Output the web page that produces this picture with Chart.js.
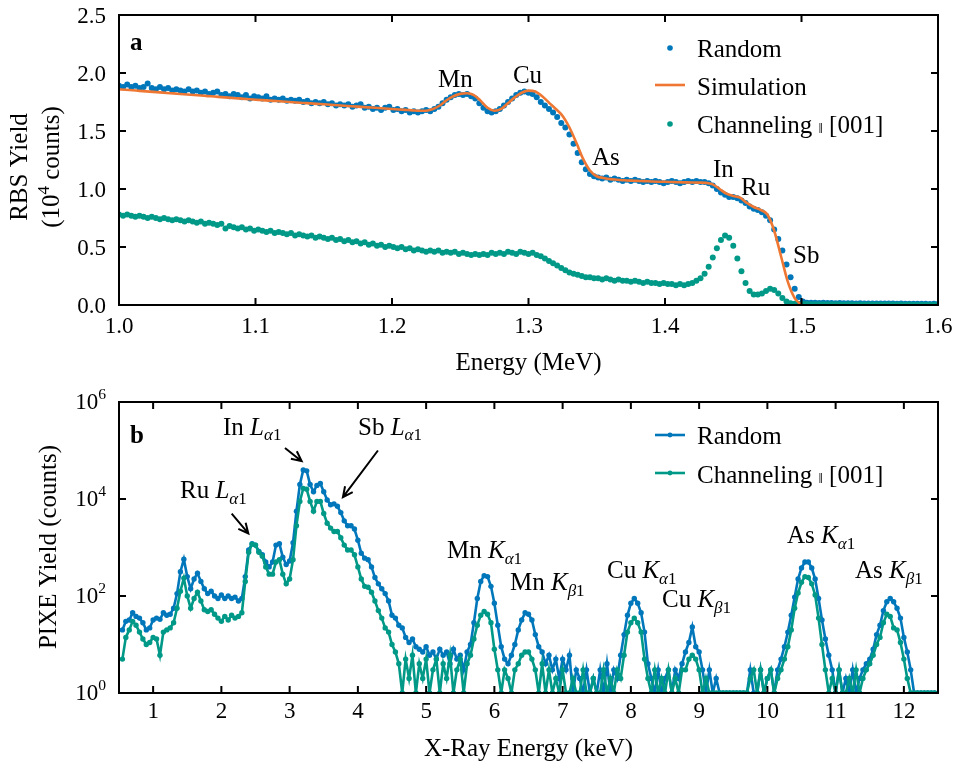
<!DOCTYPE html>
<html lang="en">
<head>
<meta charset="UTF-8" />
<title>RBS and PIXE spectra</title>
<script src="https://cdn.jsdelivr.net/npm/chart.js"></script>
<style>
  body { margin: 0; background: #fff; }
  canvas { position: absolute; left: 0; }
  #rbsChart { top: 0; }
  #pixeChart { top: 380px; }
</style>
</head>
<body>
<canvas id="rbsChart" width="955" height="380"></canvas>
<canvas id="pixeChart" width="955" height="385"></canvas>
<script>
// ---------- panel a: RBS (yield in 10^4 counts) ----------
const rbsStart = 1.0, rbsStep = 0.003;     // MeV per channel
const rbsRandom = [
  1.89,1.88,1.90,1.88,1.89,1.87,1.88,1.91,1.87,1.86,
  1.88,1.86,1.87,1.85,1.86,1.85,1.84,1.86,1.84,1.85,
  1.83,1.84,1.82,1.83,1.84,1.81,1.82,1.80,1.82,1.81,
  1.79,1.81,1.78,1.80,1.79,1.78,1.80,1.77,1.78,1.77,
  1.78,1.76,1.77,1.76,1.77,1.75,1.76,1.74,1.75,1.74,
  1.75,1.73,1.74,1.72,1.73,1.72,1.73,1.71,1.72,1.73,
  1.70,1.71,1.69,1.70,1.68,1.70,1.71,1.68,1.69,1.67,
  1.68,1.66,1.67,1.66,1.67,1.68,1.67,1.69,1.71,1.74,
  1.77,1.79,1.81,1.82,1.81,1.82,1.80,1.78,1.74,1.70,
  1.67,1.66,1.67,1.69,1.72,1.75,1.78,1.81,1.83,1.84,
  1.83,1.82,1.79,1.75,1.72,1.69,1.66,1.62,1.57,1.53,
  1.47,1.39,1.31,1.23,1.17,1.13,1.11,1.10,1.09,1.10,
  1.08,1.09,1.08,1.07,1.08,1.07,1.08,1.07,1.06,1.07,
  1.06,1.07,1.06,1.05,1.06,1.07,1.06,1.05,1.06,1.07,
  1.06,1.07,1.06,1.06,1.05,1.03,1.00,0.97,0.95,0.93,
  0.93,0.92,0.90,0.88,0.85,0.83,0.82,0.80,0.77,0.73,
  0.65,0.57,0.47,0.35,0.24,0.14,0.07,0.03,0.02,0.02,
  0.02,0.018,0.02,0.017,0.018,0.016,0.017,0.015,0.016,0.015,
  0.014,0.015,0.014,0.013,0.014,0.013,0.012,0.013,0.012,0.012,
  0.011,0.012,0.011,0.010,0.011,0.010,0.010,0.011,0.009,0.010,0.009
];
const rbsChanneling = [
  0.78,0.77,0.78,0.77,0.76,0.77,0.76,0.75,0.76,0.75,
  0.74,0.75,0.74,0.73,0.74,0.73,0.72,0.73,0.72,0.71,
  0.72,0.70,0.71,0.70,0.69,0.70,0.66,0.68,0.67,0.66,
  0.67,0.65,0.66,0.64,0.65,0.64,0.63,0.64,0.62,0.63,
  0.62,0.61,0.62,0.60,0.61,0.60,0.59,0.60,0.58,0.59,
  0.58,0.57,0.58,0.56,0.57,0.55,0.56,0.54,0.55,0.53,
  0.54,0.52,0.53,0.51,0.52,0.50,0.51,0.50,0.49,0.50,
  0.48,0.49,0.47,0.48,0.47,0.46,0.47,0.46,0.47,0.45,
  0.46,0.45,0.46,0.44,0.45,0.44,0.43,0.44,0.43,0.44,
  0.43,0.45,0.44,0.45,0.44,0.46,0.45,0.44,0.46,0.45,
  0.44,0.45,0.43,0.42,0.40,0.38,0.36,0.34,0.32,0.30,
  0.28,0.27,0.26,0.25,0.24,0.24,0.23,0.23,0.22,0.23,
  0.22,0.21,0.22,0.21,0.21,0.20,0.21,0.20,0.19,0.20,
  0.19,0.19,0.18,0.19,0.18,0.18,0.17,0.18,0.17,0.18,
  0.19,0.21,0.23,0.27,0.33,0.41,0.49,0.56,0.60,0.58,
  0.51,0.40,0.29,0.19,0.12,0.09,0.09,0.10,0.12,0.14,
  0.13,0.10,0.06,0.03,0.015,0.01,0.009,0.008,0.008,0.007,
  0.007,0.007,0.006,0.007,0.006,0.006,0.006,0.005,0.006,0.005,
  0.005,0.005,0.005,0.005,0.004,0.005,0.004,0.004,0.004,0.004,
  0.004,0.004,0.003,0.004,0.003,0.003,0.003,0.003,0.003,0.003,0.003
];
const simStart = 1.0, simStep = 0.005;
const rbsSimulation = [
  1.860,1.855,1.851,1.846,1.842,1.837,1.833,1.828,1.824,1.819,
  1.815,1.810,1.806,1.801,1.797,1.792,1.788,1.783,1.779,1.774,
  1.770,1.766,1.762,1.758,1.754,1.750,1.746,1.742,1.738,1.734,
  1.730,1.726,1.722,1.718,1.714,1.710,1.706,1.702,1.698,1.694,
  1.690,1.686,1.682,1.678,1.675,1.675,1.690,1.720,1.765,1.800,
  1.820,1.825,1.810,1.760,1.700,1.675,1.690,1.740,1.790,1.830,
  1.848,1.840,1.800,1.745,1.690,1.630,1.530,1.400,1.260,1.160,
  1.110,1.095,1.085,1.080,1.075,1.072,1.070,1.068,1.065,1.063,
  1.062,1.060,1.058,1.057,1.056,1.055,1.053,1.040,1.000,0.960,
  0.940,0.925,0.880,0.845,0.820,0.780,0.640,0.420,0.200,0.060,
  0.000
];
const rbsTicksX = [1.0, 1.1, 1.2, 1.3, 1.4, 1.5, 1.6];
const rbsTicksY = [0.0, 0.5, 1.0, 1.5, 2.0, 2.5];

// ---------- panel b: PIXE (counts) ----------
const pixeStart = 0.55, pixeStep = 0.05;   // keV per bin
const pixeRandom = [
  20,30,32,45,38,35,28,20,22,32,
  35,33,45,40,42,56,112,316,575,251,
  141,224,295,200,141,112,126,100,89,105,
  89,100,89,95,79,89,251,891,1200,1120,
  832,708,501,398,501,1120,1200,631,447,525,
  1259,5623,19953,39811,38019,19953,14125,19055,20893,14125,
  9550,7586,7943,7079,5248,3548,2818,2818,2399,1413,
  759,603,562,398,240,178,141,112,79,40,
  35,25,22,14,11,13,9,8,7,9,
  6,7,5,8,6,7,4,8,5,6,
  3,7,10,28,89,200,263,251,158,71,
  25,9,5,4,6,10,20,32,45,42,
  32,16,9,7,4,6,3,5,2,5,
  3,6,1,3,2,1,3,1,2,1,
  3,1,4,1,3,2,6,16,40,71,
  89,71,45,18,4,2,1,3,1,2,
  3,1,3,2,4,7,11,23,9,7,
  3,1,3,1,2,1,1,1,1,1,
  1,1,1,1,3,1,1,3,1,2,
  3,1,3,5,9,18,40,95,224,380,
  501,501,380,224,89,32,13,6,3,1,
  3,1,2,1,3,1,2,3,4,5,
  8,16,25,50,76,89,76,56,35,14,
  7,3,1,1,1,1,1,1,1
];
const pixeChanneling = [
  5,14,20,30,25,18,13,10,11,14,
  13,6,18,20,22,28,56,126,234,100,
  56,89,120,79,52,48,52,42,35,30,
  38,32,40,35,38,45,200,794,1175,1120,
  794,661,398,282,282,501,562,282,178,224,
  562,2818,8913,16596,15849,8913,5623,8913,8913,5012,
  3162,2512,2138,2138,1585,1120,891,891,708,398,
  224,158,151,120,79,50,35,22,18,10,
  7,4,1,5,2,6,1,4,2,5,
  1,3,5,1,4,2,6,1,3,5,
  1,4,6,13,25,40,48,42,28,8,
  3,1,3,2,1,3,4,6,7,7,
  5,3,1,4,1,3,1,2,1,3,
  1,1,2,1,1,3,1,1,2,1,
  1,3,1,2,1,3,2,6,18,28,
  35,28,18,5,2,1,3,1,2,1,
  3,1,2,1,3,3,5,6,5,3,
  1,2,1,1,1,1,1,1,1,1,
  1,1,1,1,2,3,1,3,1,2,
  3,1,2,3,5,9,20,56,115,191,
  251,240,178,105,35,10,3,1,2,1,
  3,1,1,2,1,3,1,2,3,4,
  6,10,14,28,42,38,22,20,11,5,
  2,1,1,1,1,1,1,1,1
];
const pixeTicksX = [1, 2, 3, 4, 5, 6, 7, 8, 9, 10, 11, 12];
const pixeTicksY = [1, 100, 10000, 1000000];

// ---------- styling ----------
const FONT = '"Liberation Serif", "Times New Roman", serif';
const TICK = 23, TEXT = 25;
const BLUE = '#0077BB', TEAL = '#009988', ORANGE = '#EE7733';

const toXY = (start, step, ys) => ys.map((y, i) => ({ x: +(start + i * step).toFixed(4), y }));

// draw a run of text pieces: i = italic, b = bold, s = subscript, p = superscript, sm = small inline
function richText(ctx, parts, x, y, size, align) {
  let w = 0;
  const m = parts.map(p => {
    const sz = (p.s || p.p) ? size * 0.68 : p.sm ? size * 0.62 : size;
    const f = (p.i ? 'italic ' : '') + (p.b ? 'bold ' : '') + sz + 'px ' + FONT;
    ctx.font = f;
    const pw = ctx.measureText(p.t).width;
    w += pw;
    return { f, pw };
  });
  let cx = align === 'center' ? x - w / 2 : align === 'right' ? x - w : x;
  ctx.textAlign = 'left';
  ctx.textBaseline = 'alphabetic';
  parts.forEach((p, k) => {
    ctx.font = m[k].f;
    const dy = p.s ? size * 0.22 : p.p ? -size * 0.42 : 0;
    ctx.fillText(p.t, cx, y + dy);
    cx += m[k].pw;
  });
}

function arrow(ctx, x1, y1, x2, y2) {
  const ang = Math.atan2(y2 - y1, x2 - x1), h = 11;
  ctx.beginPath();
  ctx.moveTo(x1, y1); ctx.lineTo(x2, y2);
  ctx.moveTo(x2 - h * Math.cos(ang - 0.45), y2 - h * Math.sin(ang - 0.45));
  ctx.lineTo(x2, y2);
  ctx.lineTo(x2 - h * Math.cos(ang + 0.45), y2 - h * Math.sin(ang + 0.45));
  ctx.stroke();
}

const channelingText = [{ t: 'Channeling ' }, { t: '\u2016', sm: true }, { t: ' [001]' }];

// frame, inward ticks on all four sides, tick labels, titles, legend, labels
function framePlugin(cfg) {
  return {
    id: 'frame',
    afterDatasetsDraw(chart) {
      const { ctx, chartArea: a, scales } = chart;
      ctx.save();
      ctx.strokeStyle = '#000';
      ctx.fillStyle = '#000';
      ctx.lineWidth = 2;
      ctx.beginPath();
      cfg.xTicks.forEach(v => {
        const x = scales.x.getPixelForValue(v);
        if (x < a.left + 2 || x > a.right - 2) return;
        ctx.moveTo(x, a.bottom); ctx.lineTo(x, a.bottom - 7);
        ctx.moveTo(x, a.top); ctx.lineTo(x, a.top + 7);
      });
      cfg.yTicks.forEach(v => {
        const y = scales.y.getPixelForValue(v);
        if (y < a.top + 2 || y > a.bottom - 2) return;
        ctx.moveTo(a.left, y); ctx.lineTo(a.left + 7, y);
        ctx.moveTo(a.right, y); ctx.lineTo(a.right - 7, y);
      });
      ctx.stroke();
      ctx.strokeRect(a.left, a.top, a.right - a.left, a.bottom - a.top);

      cfg.xTicks.forEach(v => {
        richText(ctx, cfg.xLabel(v), scales.x.getPixelForValue(v), a.bottom + cfg.xLabelDy, TICK, 'center');
      });
      cfg.yTicks.forEach(v => {
        richText(ctx, cfg.yLabel(v), a.left - 13, scales.y.getPixelForValue(v) + cfg.yLabelDy, TICK, 'right');
      });

      // axis titles
      richText(ctx, cfg.xTitle, (a.left + a.right) / 2, cfg.xTitleY, TEXT, 'center');
      cfg.yTitle.forEach(line => {
        ctx.save();
        ctx.translate(line.x, cfg.yTitleY);
        ctx.rotate(-Math.PI / 2);
        richText(ctx, line.parts, 0, 0, TEXT, 'center');
        ctx.restore();
      });

      // panel letter
      richText(ctx, [{ t: cfg.letter, b: true }], a.left + 11, a.top + cfg.letterDy, TEXT, 'left');

      // peak labels (positioned in data units)
      cfg.labels.forEach(l => {
        richText(ctx, l.parts, scales.x.getPixelForValue(l.x), scales.y.getPixelForValue(l.y), TEXT, 'left');
      });
      ctx.lineWidth = 2;
      (cfg.arrows || []).forEach(r => {
        arrow(ctx, scales.x.getPixelForValue(r[0]), scales.y.getPixelForValue(r[1]),
                   scales.x.getPixelForValue(r[2]), scales.y.getPixelForValue(r[3]));
      });

      // legend
      cfg.legend.forEach(it => {
        if (it.line) {
          ctx.strokeStyle = it.color;
          ctx.lineWidth = 2.6;
          ctx.beginPath(); ctx.moveTo(655, it.my); ctx.lineTo(685, it.my); ctx.stroke();
        }
        if (it.dot) {
          ctx.fillStyle = it.color;
          ctx.beginPath(); ctx.arc(670, it.my, it.r || 2.8, 0, Math.PI * 2); ctx.fill();
        }
        ctx.fillStyle = '#000';
        richText(ctx, it.text, 697, it.ty, TEXT, 'left');
      });
      ctx.restore();
    }
  };
}

const baseOpts = (padding, x, y) => ({
  responsive: false,
  animation: false,
  devicePixelRatio: 1,
  layout: { padding },
  plugins: { legend: { display: false }, tooltip: { enabled: false } },
  scales: { x: Object.assign({ display: false }, x), y: Object.assign({ display: false }, y) }
});

const fix1 = v => [{ t: v.toFixed(1) }];

// ---------- panel a ----------
new Chart(document.getElementById('rbsChart'), {
  type: 'scatter',
  data: {
    datasets: [
      { label: 'Random', data: toXY(rbsStart, rbsStep, rbsRandom), showLine: false,
        pointRadius: 3, pointBorderWidth: 0, pointBackgroundColor: BLUE, order: 3 },
      { label: 'Simulation', data: toXY(simStart, simStep, rbsSimulation), showLine: true,
        pointRadius: 0, borderColor: ORANGE, borderWidth: 2.6, cubicInterpolationMode: 'monotone', order: 1 },
      { label: 'Channeling', data: toXY(rbsStart, rbsStep, rbsChanneling), showLine: false,
        pointRadius: 3, pointBorderWidth: 0, pointBackgroundColor: TEAL, order: 2 }
    ]
  },
  options: baseOpts({ left: 119, right: 17, top: 15, bottom: 75 },
    { type: 'linear', min: 1.0, max: 1.6 },
    { type: 'linear', min: 0, max: 2.5 }),
  plugins: [framePlugin({
    xTicks: rbsTicksX, yTicks: rbsTicksY, xLabel: fix1, yLabel: fix1,
    xLabelDy: 28, yLabelDy: 8,
    xTitle: [{ t: 'Energy (MeV)' }], xTitleY: 370,
    yTitle: [
      { x: 27, parts: [{ t: 'RBS Yield' }] },
      { x: 59, parts: [{ t: '(10' }, { t: '4', p: true }, { t: ' counts)' }] }
    ],
    yTitleY: 167,
    letter: 'a', letterDy: 35,
    labels: [
      { x: 1.2337, y: 1.879, parts: [{ t: 'Mn' }] },
      { x: 1.2886, y: 1.914, parts: [{ t: 'Cu' }] },
      { x: 1.3465, y: 1.207, parts: [{ t: 'As' }] },
      { x: 1.4352, y: 1.103, parts: [{ t: 'In' }] },
      { x: 1.4557, y: 0.948, parts: [{ t: 'Ru' }] },
      { x: 1.4938, y: 0.362, parts: [{ t: 'Sb' }] }
    ],
    legend: [
      { text: [{ t: 'Random' }], color: BLUE, dot: true, my: 48, ty: 57 },
      { text: [{ t: 'Simulation' }], color: ORANGE, line: true, my: 85, ty: 95 },
      { text: channelingText, color: TEAL, dot: true, my: 124, ty: 133 }
    ]
  })]
});

// ---------- panel b ----------
const pw = v => 10 ** v;
const kLine = (el, sym, greek) => [{ t: el + ' ' }, { t: sym, i: true }, { t: greek, i: true, s: true }, { t: '1', s: true }];

new Chart(document.getElementById('pixeChart'), {
  type: 'scatter',
  data: {
    datasets: [
      { label: 'Random', data: toXY(pixeStart, pixeStep, pixeRandom), showLine: true,
        borderColor: BLUE, borderWidth: 2.6, pointRadius: 2.7, pointBorderWidth: 0,
        pointBackgroundColor: BLUE, order: 2 },
      { label: 'Channeling', data: toXY(pixeStart, pixeStep, pixeChanneling), showLine: true,
        borderColor: TEAL, borderWidth: 2.6, pointRadius: 2.7, pointBorderWidth: 0,
        pointBackgroundColor: TEAL, order: 1 }
    ]
  },
  options: baseOpts({ left: 119, right: 17, top: 22, bottom: 72 },
    { type: 'linear', min: 0.5, max: 12.5 },
    { type: 'logarithmic', min: 1, max: 1e6 }),
  plugins: [framePlugin({
    xTicks: pixeTicksX, yTicks: pixeTicksY,
    xLabel: v => [{ t: String(v) }],
    yLabel: v => [{ t: '10' }, { t: String(Math.round(Math.log10(v))), p: true }],
    xLabelDy: 25, yLabelDy: 7,
    xTitle: [{ t: 'X-Ray Energy (keV)' }], xTitleY: 376,
    yTitle: [{ x: 56, parts: [{ t: 'PIXE Yield (counts)' }] }],
    yTitleY: 167,
    letter: 'b', letterDy: 41,
    labels: [
      { x: 1.394, y: pw(4.02), parts: kLine('Ru', 'L', '\u03b1') },
      { x: 2.024, y: pw(5.32), parts: kLine('In', 'L', '\u03b1') },
      { x: 4.002, y: pw(5.32), parts: kLine('Sb', 'L', '\u03b1') },
      { x: 5.306, y: pw(2.78), parts: kLine('Mn', 'K', '\u03b1') },
      { x: 6.229, y: pw(2.12), parts: kLine('Mn', 'K', '\u03b2') },
      { x: 7.650, y: pw(2.37), parts: kLine('Cu', 'K', '\u03b1') },
      { x: 8.456, y: pw(1.77), parts: kLine('Cu', 'K', '\u03b2') },
      { x: 10.288, y: pw(3.09), parts: kLine('As', 'K', '\u03b1') },
      { x: 11.284, y: pw(2.37), parts: kLine('As', 'K', '\u03b2') }
    ],
    arrows: [
      [2.932, pw(5.05), 3.176, pw(4.78)],
      [2.151, pw(3.70), 2.395, pw(3.29)],
      [4.294, pw(5.00), 3.781, pw(4.04)]
    ],
    legend: [
      { text: [{ t: 'Random' }], color: BLUE, line: true, dot: true, r: 2.4, my: 55, ty: 64 },
      { text: channelingText, color: TEAL, line: true, dot: true, r: 2.4, my: 93, ty: 103 }
    ]
  })]
});
</script>
</body>
</html>
